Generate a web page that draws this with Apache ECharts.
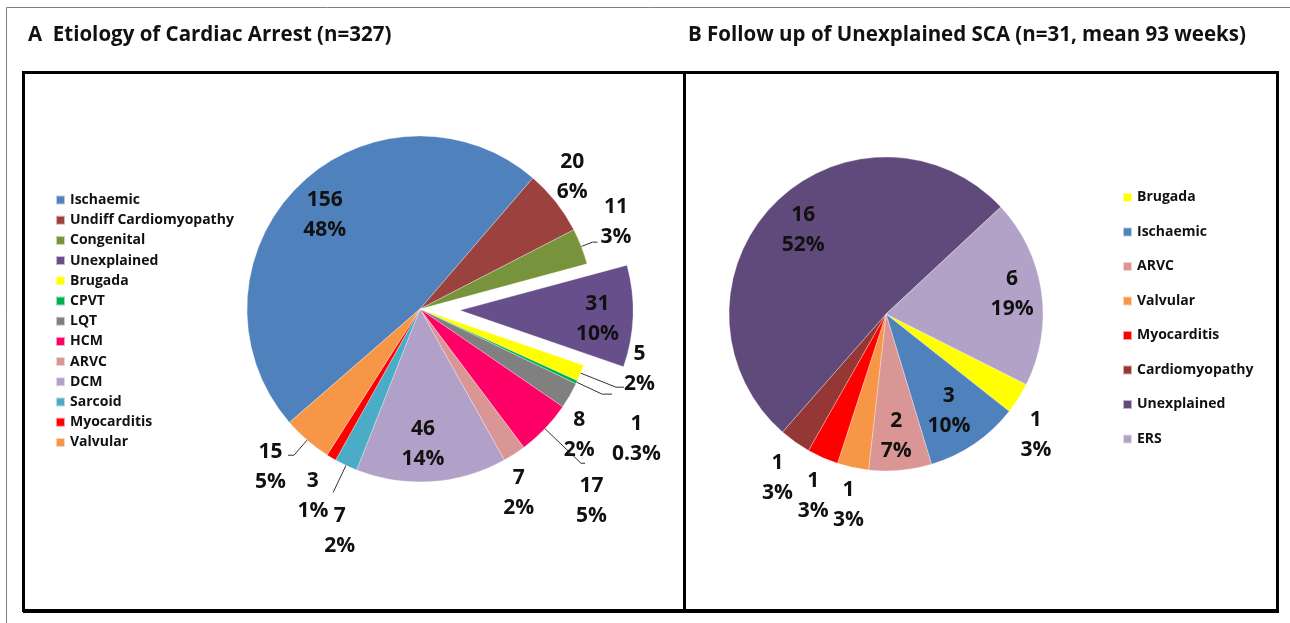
<!DOCTYPE html>
<html>
<head>
<meta charset="utf-8">
<script src="https://cdn.jsdelivr.net/npm/echarts@6/dist/echarts.min.js"></script>
<style>
html, body { margin: 0; padding: 0; background: #fff; }
#chart { width: 1290px; height: 623px; }
</style>
</head>
<body>
<div id="chart"></div>
<script>
// A - etiology of cardiac arrest (n=327)
const namesA = ['Ischaemic', 'Undiff Cardiomyopathy', 'Congenital', 'Unexplained', 'Brugada', 'CPVT', 'LQT', 'HCM', 'ARVC', 'DCM', 'Sarcoid', 'Myocarditis', 'Valvular']
const valuesA = [156, 20, 11, 31, 5, 1, 8, 17, 7, 46, 7, 3, 15]
const pctA = ['48%', '6%', '3%', '10%', '2%', '0.3%', '2%', '5%', '2%', '14%', '2%', '1%', '5%']

// B - follow up of unexplained SCA (n=31)
const namesB = ['Brugada', 'Ischaemic', 'ARVC', 'Valvular', 'Myocarditis', 'Cardiomyopathy', 'Unexplained', 'ERS']
const valuesB = [1, 3, 2, 1, 1, 1, 16, 6]
const pctB = ['3%', '10%', '7%', '3%', '3%', '3%', '52%', '19%']

const colorsA = ['#4f81bd', '#9b413e', '#77933c', '#674f8b', '#ffff00', '#00b050', '#808080', '#ff0066', '#d99694', '#b1a0c7', '#4bacc6', '#ff0000', '#f79646']
const colorsB = ['#ffff00', '#4f81bd', '#d99694', '#f79646', '#ff0000', '#953735', '#604a7b', '#b3a2c7']

// which slices carry their label inside
const insideA = [0, 3, 9]
const insideB = [1, 2, 6, 7]

// leader lines [show, length, length2] and label nudges [dx, dy] (excel style placement)
const lineA = { 1: [false, 0, 0], 2: [true, 12, 5], 4: [true, 38, 8], 5: [true, 28, 10], 6: [false, 0, 0], 7: [true, 50, 4], 8: [false, 0, 0], 10: [true, 30, 0], 11: [false, 0, 0], 12: [true, 20, 6] }
const nudgeA = { 1: [-4, -25], 2: [-2, -20], 4: [-5, -18], 5: [-5, 45], 6: [-11, 39], 7: [-14, 38], 8: [-16, 39], 10: [27, 39], 11: [2, 38], 12: [3, 12] }
const lineB = { 0: [false, 0, 0], 3: [false, 0, 0], 4: [false, 0, 0], 5: [false, 0, 0] }
const nudgeB = { 0: [-3, 37], 3: [16, 38], 4: [11, 38], 5: [3, 36] }
// inside labels
const nudgeInA = { 0: [0, 1], 3: [3, 4], 9: [-6, 1] }
const nudgeInB = { 1: [-6, -4], 2: [-1, 0], 6: [5, 1], 7: [5, -3] }

const FONT = 'Open Sans'
const richV = {
  v: { fontFamily: FONT, fontWeight: 'bold', fontSize: 21, lineHeight: 30, color: '#111', align: 'center' }
}

const mainData = (names, values, colors, inside, lines, sel) => names.map((n, i) => {
  const ln = lines[i] || [false, 0, 0]
  return {
    name: n,
    value: values[i],
    selected: n === sel,
    itemStyle: { color: colors[i] },
    label: { show: inside.indexOf(i) < 0 },
    labelLine: { show: ln[0], length: ln[1], length2: ln[2] }
  }
})

const overlayData = (names, values, inside, sel) => names.map((n, i) => ({
  name: n,
  value: values[i],
  selected: n === sel,
  label: { show: inside.indexOf(i) >= 0 }
}))

const fmt = pcts => p => '{v|' + p.value + '}\n{v|' + pcts[p.dataIndex] + '}'
const nudge = tbl => p => { const t = tbl[p.dataIndex]; return t ? { dx: t[0], dy: t[1] } : {} }

const pieA = { center: [420, 309], r: 173, startAngle: 221 }
const pieB = { center: [886, 314], r: 157, startAngle: 333.3 }

const chart = echarts.init(document.getElementById('chart'))

const frames = [
  { type: 'rect', shape: { x: 6.5, y: 7.5, width: 1290, height: 640 }, style: { fill: 'none', stroke: '#7f7f7f', lineWidth: 1 } },
  { type: 'rect', shape: { x: 23.5, y: 72.5, width: 661, height: 538 }, style: { fill: 'none', stroke: '#000', lineWidth: 3 } },
  { type: 'rect', shape: { x: 684.5, y: 72.5, width: 593, height: 538 }, style: { fill: 'none', stroke: '#000', lineWidth: 3 } },
  { type: 'line', shape: { x1: 23, y1: 612, x2: 1279, y2: 612 }, style: { stroke: '#000', lineWidth: 2 } },
  { type: 'text', x: 28, y: 35, style: { text: 'A  Etiology of Cardiac Arrest (n=327)', font: 'bold 20.5px "Open Sans"', fill: '#111', verticalAlign: 'middle' } },
  { type: 'text', x: 688, y: 35, style: { text: 'B Follow up of Unexplained SCA (n=31, mean 93 weeks)', font: 'bold 20.5px "Open Sans"', fill: '#111', verticalAlign: 'middle' } }
]

const legendBase = {
  orient: 'vertical',
  icon: 'rect',
  itemWidth: 9,
  itemHeight: 9,
  selectedMode: false,
  textStyle: { fontFamily: FONT, fontWeight: 'bold', fontSize: 14, lineHeight: 14, color: '#111' }
}

const sliceBorder = { borderColor: 'rgba(255,255,255,0.6)', borderWidth: 0.5 }

const option = {
  animation: false,
  graphic: frames,
  legend: [
    Object.assign({}, legendBase, {
      left: 50, top: 188, itemGap: 6.2,
      data: namesA.map((n, i) => ({ name: n, itemStyle: { color: colorsA[i] } }))
    }),
    Object.assign({}, legendBase, {
      left: 1117, top: 185.5, itemGap: 20.5,
      data: namesB.map((n, i) => ({ name: n, itemStyle: { color: colorsB[i] } }))
    })
  ],
  series: [
    {
      type: 'pie',
      center: pieA.center,
      radius: [0, pieA.r],
      startAngle: pieA.startAngle,
      selectedMode: 'single',
      selectedOffset: 40,
      avoidLabelOverlap: false,
      itemStyle: sliceBorder,
      label: { formatter: fmt(pctA), rich: richV },
      labelLine: { lineStyle: { color: '#333', width: 1 } },
      labelLayout: nudge(nudgeA),
      emphasis: { disabled: true },
      data: mainData(namesA, valuesA, colorsA, insideA, lineA, 'Unexplained')
    },
    {
      type: 'pie',
      center: pieB.center,
      radius: [0, pieB.r],
      startAngle: pieB.startAngle,
      avoidLabelOverlap: false,
      itemStyle: sliceBorder,
      label: { formatter: fmt(pctB), rich: richV },
      labelLine: { lineStyle: { color: '#333', width: 1 } },
      labelLayout: nudge(nudgeB),
      emphasis: { disabled: true },
      data: mainData(namesB, valuesB, colorsB, insideB, lineB, null)
    },
    // label-only rings so the inside labels sit further out, like excel
    {
      type: 'pie',
      silent: true,
      center: pieA.center,
      radius: [pieA.r * 0.52, pieA.r],
      startAngle: pieA.startAngle,
      selectedMode: 'single',
      selectedOffset: 40,
      itemStyle: { color: 'rgba(0,0,0,0)' },
      label: { position: 'inside', formatter: fmt(pctA), rich: richV },
      labelLayout: nudge(nudgeInA),
      emphasis: { disabled: true },
      data: overlayData(namesA, valuesA, insideA, 'Unexplained')
    },
    {
      type: 'pie',
      silent: true,
      center: pieB.center,
      radius: [pieB.r * 0.52, pieB.r],
      startAngle: pieB.startAngle,
      itemStyle: { color: 'rgba(0,0,0,0)' },
      label: { position: 'inside', formatter: fmt(pctB), rich: richV },
      labelLayout: nudge(nudgeInB),
      emphasis: { disabled: true },
      data: overlayData(namesB, valuesB, insideB, null)
    }
  ]
}

chart.setOption(option)
</script>
</body>
</html>
